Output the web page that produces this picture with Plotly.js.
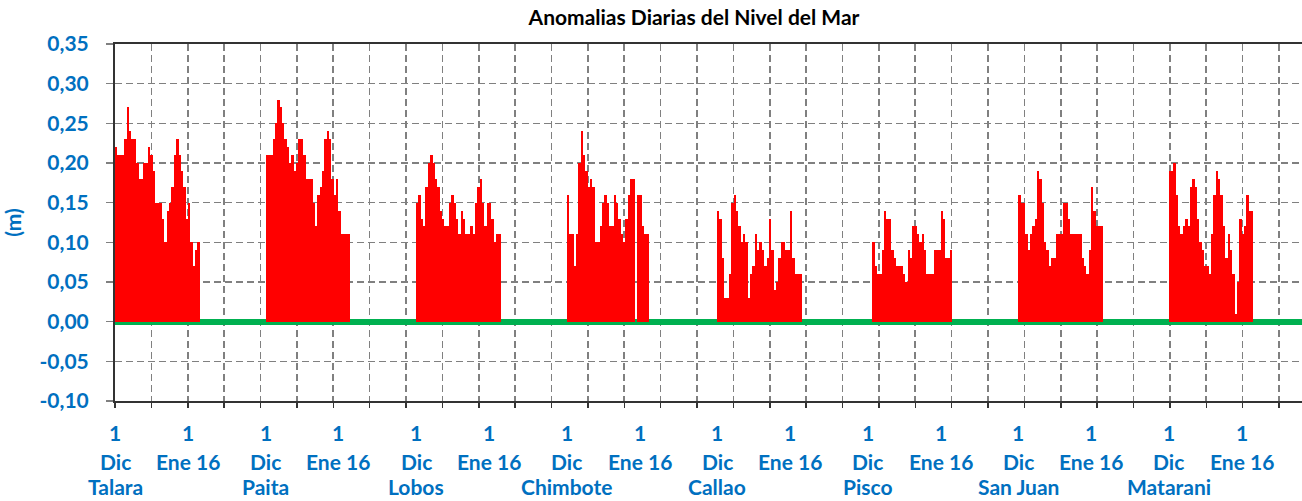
<!DOCTYPE html>
<html>
<head>
<meta charset="utf-8">
<script src="https://cdn.plot.ly/plotly-3.0.1.min.js"></script>
<style>html,body{margin:0;padding:0;background:#fff;}#chart{width:1302px;height:501px;}</style>
</head>
<body>
<div id="chart"></div>
<script>
// ---- data ----
const stations = ['Talara', 'Paita', 'Lobos', 'Chimbote', 'Callao', 'Pisco', 'San Juan', 'Matarani'];
const firstDay = [1, 1, 1, 1, 1, 3, 1, 1];           // day of December of the first value
const slotsPerStation = 64;                          // category slots per station block
const monthLabels = ['Dic', 'Ene 16'];
const dayLabel = '1';

const talara   = [0.22,0.21,0.21,0.21,0.23,0.27,0.24,0.23,0.23,0.20,0.18,0.18,0.20,0.20,0.22,0.21,0.19,0.15,0.15,0.15,0.13,0.10,0.14,0.15,0.17,0.21,0.23,0.21,0.19,0.17,0.13,0.15,0.10,0.07,0.09,0.10];
const paita    = [0.21,0.21,0.21,0.23,0.25,0.28,0.27,0.25,0.23,0.22,0.20,0.21,0.19,0.20,0.23,0.23,0.21,0.18,0.18,0.18,0.15,0.12,0.16,0.17,0.19,0.23,0.24,0.23,0.18,0.16,0.18,0.14,0.11,0.11,0.11,0.11];
const lobos    = [0.15,0.16,0.13,0.12,0.17,0.20,0.21,0.20,0.18,0.17,0.14,0.13,0.12,0.12,0.15,0.16,0.15,0.13,0.11,0.14,0.13,0.11,0.11,0.12,0.11,0.15,0.17,0.18,0.15,0.12,0.15,0.15,0.13,0.10,0.11,0.11];
const chimbote = [0.16,0.11,0.11,0.07,0.11,0.20,0.24,0.21,0.19,0.17,0.18,0.17,0.10,0.10,0.12,0.15,0.16,0.15,0.12,0.12,0.16,0.15,0.13,0.11,0.10,0.13,0.16,0.18,0.18,0.00,0.16,0.16,0.12,0.11,0.11];
const callao   = [0.14,0.13,0.08,0.03,0.03,0.06,0.15,0.16,0.14,0.12,0.10,0.11,0.10,0.03,0.06,0.07,0.11,0.09,0.10,0.09,0.07,0.08,0.13,0.09,0.04,0.05,0.08,0.10,0.10,0.09,0.09,0.14,0.08,0.06,0.06,0.06];
const pisco    = [0.10,0.07,0.06,0.06,0.09,0.14,0.13,0.13,0.09,0.08,0.07,0.07,0.07,0.06,0.05,0.09,0.08,0.12,0.12,0.11,0.10,0.11,0.09,0.06,0.06,0.06,0.09,0.09,0.09,0.14,0.13,0.08,0.08,0.09];
const sanJuan  = [0.16,0.15,0.15,0.11,0.09,0.11,0.12,0.13,0.19,0.18,0.15,0.10,0.09,0.07,0.08,0.08,0.11,0.11,0.11,0.15,0.15,0.13,0.11,0.11,0.11,0.11,0.11,0.08,0.07,0.06,0.09,0.17,0.14,0.12,0.12,0.12];
const matarani = [0.19,0.19,0.20,0.16,0.12,0.11,0.12,0.13,0.12,0.17,0.18,0.17,0.13,0.10,0.09,0.07,0.07,0.06,0.11,0.16,0.19,0.18,0.16,0.12,0.08,0.11,0.09,0.06,0.01,0.05,0.13,0.11,0.12,0.16,0.14,0.14];
const series = [talara, paita, lobos, chimbote, callao, pisco, sanJuan, matarani];

const yTicks = [-0.10, -0.05, 0.00, 0.05, 0.10, 0.15, 0.20, 0.25, 0.30, 0.35];

// ---- style ----
const BLUE = '#0070C0';
const FONT = 'Lato, "Open Sans", sans-serif';
const PX_PER_SLOT = 2.352;
const L = 115, T = 44, W = 1302, H = 501, PLOT_H = 357;

const xs = [], ys = [];
series.forEach((vals, k) => {
  vals.forEach((v, j) => {
    xs.push(k * slotsPerStation + (firstDay[k] - 1) + j);
    ys.push(v);
  });
});

const traces = [{
  type: 'bar',
  x: xs, y: ys,
  offset: 0, width: 1,
  marker: { color: '#FF0000', line: { color: 'rgba(255,90,90,1)', width: 0 } },
  hoverinfo: 'x+y'
}];

function py(Y) { return (T + PLOT_H - Y) / PLOT_H; }

const ann = [];
const lblFont = { family: FONT, size: 21, color: BLUE, weight: 700 };
stations.forEach((name, k) => {
  const x0 = k * slotsPerStation;
  const x1 = x0 + 31;
  ann.push({ x: x0, y: py(433), text: dayLabel });
  ann.push({ x: x0, y: py(461), text: monthLabels[0] });
  ann.push({ x: x0, y: py(486), text: name });
  ann.push({ x: x1, y: py(433), text: dayLabel });
  ann.push({ x: x1, y: py(461), text: monthLabels[1] });
});
ann.forEach(a => {
  a.xref = 'x'; a.yref = 'paper'; a.showarrow = false;
  a.xanchor = 'center'; a.yanchor = 'middle'; a.font = lblFont;
});

const layout = {
  width: W, height: H,
  margin: { l: L, r: 0, t: T, b: H - T - PLOT_H, pad: 0 },
  paper_bgcolor: '#fff', plot_bgcolor: '#fff',
  bargap: 0,
  showlegend: false,
  title: {
    text: 'Anomalias Diarias del Nivel del Mar',
    font: { family: FONT, size: 21, color: '#000', weight: 700 },
    x: 694 / W, xref: 'container', xanchor: 'center',
    y: 1 - 18 / H, yref: 'container', yanchor: 'middle'
  },
  xaxis: {
    range: [0, (W - L) / PX_PER_SLOT],
    tick0: 0, dtick: 36.375 / PX_PER_SLOT,
    showticklabels: false,
    ticks: 'outside', ticklen: 5, tickcolor: '#333', tickwidth: 1.5,
    showgrid: true, gridcolor: '#808080', gridwidth: 1.6, griddash: '7px,4px',
    zeroline: false,
    showline: true, linecolor: '#333', linewidth: 2, mirror: true
  },
  yaxis: {
    range: [-0.10, 0.35],
    tickvals: yTicks,
    ticktext: yTicks.map(v => v.toFixed(2).replace('.', ',')),
    tickfont: { family: FONT, size: 21, color: BLUE, weight: 700 },
    ticks: 'outside', ticklen: 7, tickcolor: '#808080', tickwidth: 1.5,
    ticklabelstandoff: 13,
    showgrid: true, gridcolor: '#808080', gridwidth: 1.6, griddash: '7px,4px',
    zeroline: true, zerolinecolor: '#00B050', zerolinewidth: 6,
    showline: true, linecolor: '#333', linewidth: 2,
    title: { text: '(m)', font: { family: FONT, size: 21, color: BLUE, weight: 700 }, standoff: 12 }
  },
  annotations: ann
};

Plotly.newPlot('chart', traces, layout, { displayModeBar: false, staticPlot: true });
</script>
</body>
</html>
